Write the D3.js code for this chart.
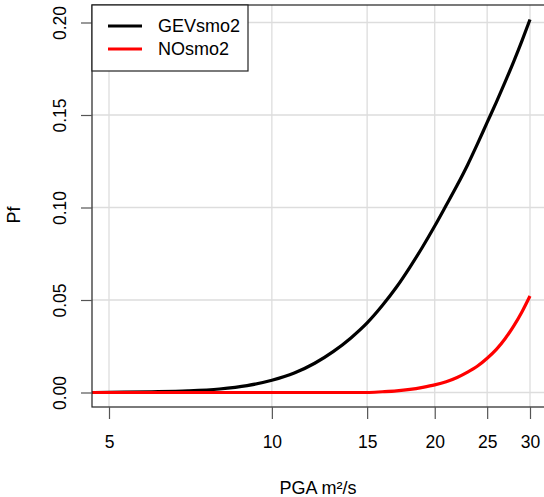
<!DOCTYPE html>
<html lang="en">
<head>
    <meta charset="utf-8">
    <title>Pf vs PGA</title>
    <script src="https://d3js.org/d3.v7.min.js"></script>
    <style>
        body { margin: 0; background: white; }
        text { font-family: "Liberation Sans", Arial, sans-serif; fill: #000; }
    </style>
</head>
<body>
    <script>
        // PGA values (log scale axis)
        var pga = [4.65, 5, 6, 7, 8, 9, 10, 11, 12, 13, 14, 15, 16, 17, 18, 19, 20,
                   21, 22, 23, 24, 25, 26, 27, 28, 29, 30];
        var gevsmo2 = [0, 0.0001, 0.0004, 0.0009, 0.0019, 0.0037, 0.0066, 0.0105, 0.0158, 0.0222,
                       0.0295, 0.0376, 0.0470, 0.0570, 0.0678, 0.0788, 0.0900,
                       0.1012, 0.1120, 0.1230, 0.1345, 0.1460, 0.1570, 0.1680, 0.1790, 0.1902, 0.2016];
        var nosmo2 = [0, 0, 0, 0, 0, 0, 0, 0, 0, 0, 0, 0, 0.0004, 0.0009, 0.0017, 0.0028, 0.0041,
                      0.0058, 0.0081, 0.0110, 0.0143, 0.0185, 0.0233, 0.0292, 0.0360, 0.0437, 0.0522];
        var seriesNames = ["GEVsmo2", "NOsmo2"];
        var seriesColors = ["black", "red"];
        var xTicks = [5, 10, 15, 20, 25, 30];
        var yTicks = [0, 0.05, 0.10, 0.15, 0.20];

        var w = 544;
        var h = 497;
        var box = { left: 92, top: 5, right: 550, bottom: 407 };

        var svg = d3.select("body").append("svg").attr("width", w).attr("height", h);

        var x = d3.scaleLog().domain([5, 30]).range([109, 530]);
        var y = d3.scaleLinear().domain([0, 0.2]).range([392.5, 22.5]);

        // grid
        svg.selectAll(".vgrid").data(xTicks).enter().append("line")
            .attr("x1", function (d) { return x(d); }).attr("x2", function (d) { return x(d); })
            .attr("y1", box.top).attr("y2", box.bottom)
            .attr("stroke", "#dddddd").attr("stroke-width", 1.3);
        svg.selectAll(".hgrid").data(yTicks).enter().append("line")
            .attr("x1", box.left).attr("x2", box.right)
            .attr("y1", function (d) { return y(d); }).attr("y2", function (d) { return y(d); })
            .attr("stroke", "#dddddd").attr("stroke-width", 1.3);

        // curves
        var series = [gevsmo2, nosmo2];
        var line = d3.line()
            .x(function (d) { return x(d[0]); })
            .y(function (d) { return y(d[1]); })
            .curve(d3.curveMonotoneX);

        series.forEach(function (vals, i) {
            svg.append("path")
                .datum(pga.map(function (p, j) { return [p, vals[j]]; }))
                .attr("fill", "none")
                .attr("stroke", seriesColors[i])
                .attr("stroke-width", 3.2)
                .attr("d", line);
        });

        // box
        svg.append("rect")
            .attr("x", box.left).attr("y", box.top)
            .attr("width", box.right - box.left).attr("height", box.bottom - box.top)
            .attr("fill", "none").attr("stroke", "#222").attr("stroke-width", 1.2);

        // x axis
        var xAxis = d3.axisBottom(x).tickValues(xTicks).tickFormat(d3.format("d"))
            .tickSize(12).tickPadding(17);
        var gx = svg.append("g").attr("transform", "translate(0," + box.bottom + ")").call(xAxis);
        gx.select(".domain").remove();
        gx.selectAll("line").attr("stroke", "#555").attr("stroke-width", 1.2);
        gx.selectAll("text").style("font-size", "17.5px").attr("font-family", "Liberation Sans, Arial, sans-serif");

        // y axis
        var yAxis = d3.axisLeft(y).tickValues(yTicks).tickFormat(d3.format(".2f")).tickSize(11);
        var gy = svg.append("g").attr("transform", "translate(" + box.left + ",0)").call(yAxis);
        gy.select(".domain").remove();
        gy.selectAll("line").attr("stroke", "#555").attr("stroke-width", 1.2);
        gy.selectAll("text")
            .attr("x", null).attr("dy", null)
            .attr("text-anchor", "middle")
            .attr("transform", "translate(-26,0) rotate(-90)")
            .style("font-size", "17.5px")
            .attr("font-family", "Liberation Sans, Arial, sans-serif");

        // axis titles
        svg.append("text").attr("x", 318).attr("y", 494)
            .attr("text-anchor", "middle").style("font-size", "18px").text("PGA m²/s");
        svg.append("text").attr("transform", "translate(20,215) rotate(-90)")
            .attr("text-anchor", "middle").style("font-size", "18px").text("Pf");

        // legend
        svg.append("rect").attr("x", box.left).attr("y", box.top)
            .attr("width", 156).attr("height", 66)
            .attr("fill", "white").attr("stroke", "#222").attr("stroke-width", 1.2);
        seriesNames.forEach(function (name, i) {
            var ly = 26 + i * 23;
            svg.append("line").attr("x1", 108).attr("x2", 142).attr("y1", ly).attr("y2", ly)
                .attr("stroke", seriesColors[i]).attr("stroke-width", 3);
            svg.append("text").attr("x", 158).attr("y", ly + 6)
                .style("font-size", "18px").text(name);
        });
    </script>
</body>
</html>
